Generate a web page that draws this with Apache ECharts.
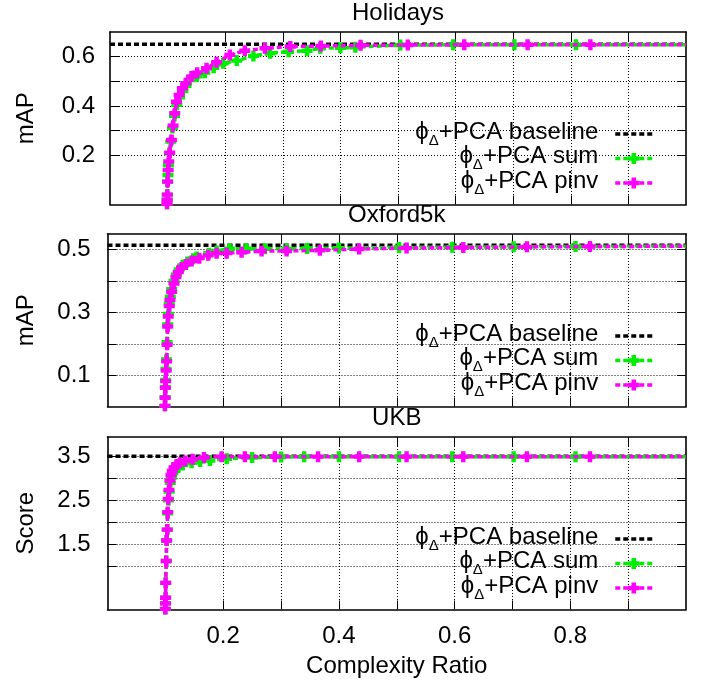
<!DOCTYPE html>
<html>
<head>
<meta charset="utf-8">
<title>Complexity ratio vs. retrieval quality</title>
<script src="https://cdn.jsdelivr.net/npm/echarts@6/dist/echarts.min.js"></script>
<style>
  html, body { margin: 0; padding: 0; background: #ffffff; }
  #chart { width: 712px; height: 683px; }
</style>
</head>
<body>
<div id="chart"></div>
<script>
// ---- data -------------------------------------------------------------
const PANEL_TITLES = ['Holidays', 'Oxford5k', 'UKB'];
const Y_NAMES = ['mAP', 'mAP', 'Score'];
const X_NAME = 'Complexity Ratio';
const SERIES_NAMES = ['\u03D5\u0394+PCA baseline', '\u03D5\u0394+PCA sum', '\u03D5\u0394+PCA pinv'];

const X_RANGE = [0, 1];
const X_GRID_TICKS = [0.2, 0.3, 0.4, 0.5, 0.6, 0.7, 0.8, 0.9];
const X_LABELS = [0.2, 0.4, 0.6, 0.8];

const Y_RANGES = [[0, 0.7], [0, 0.55], [0, 3.95]];
const Y_GRID_TICKS = [
  [0.2, 0.3, 0.4, 0.5, 0.6],
  [0.1, 0.2, 0.3, 0.4, 0.5],
  [1.0, 1.5, 2.0, 2.5, 3.0, 3.5]
];
const Y_LABELS = [[0.2, 0.4, 0.6], [0.1, 0.3, 0.5], [1.5, 2.5, 3.5]];

// full-dimension reference level per dataset
const BASELINE = [0.650, 0.514, 3.51];

// Holidays
const holidaysSumX  = [0.0990, 0.0992, 0.0995, 0.1000, 0.1007, 0.1015, 0.1030, 0.1055, 0.1085, 0.1120, 0.1160, 0.1210, 0.1265, 0.1320, 0.1385, 0.1510, 0.1646, 0.1800, 0.1966, 0.2200, 0.2490, 0.2780, 0.3100, 0.3420, 0.365, 0.400, 0.426, 0.504, 0.596, 0.702, 0.809, 1.0];
const holidaysSumY  = [0.003, 0.019, 0.040, 0.093, 0.120, 0.160, 0.208, 0.255, 0.310, 0.360, 0.405, 0.435, 0.460, 0.482, 0.505, 0.520, 0.535, 0.555, 0.573, 0.584, 0.603, 0.614, 0.620, 0.624, 0.634, 0.636, 0.638, 0.647, 0.648, 0.648, 0.648, 0.648];
const holidaysPinvX = [0.0990, 0.0992, 0.0995, 0.1000, 0.1010, 0.1020, 0.1037, 0.1066, 0.1095, 0.1124, 0.1153, 0.1200, 0.1257, 0.1315, 0.1414, 0.1513, 0.1676, 0.1850, 0.2080, 0.2340, 0.2690, 0.3130, 0.366, 0.435, 0.517, 0.615, 0.725, 0.834, 1.0];
const holidaysPinvY = [0.003, 0.019, 0.040, 0.093, 0.140, 0.175, 0.210, 0.262, 0.320, 0.370, 0.417, 0.445, 0.472, 0.492, 0.519, 0.535, 0.553, 0.577, 0.607, 0.624, 0.634, 0.641, 0.643, 0.646, 0.647, 0.648, 0.648, 0.648, 0.648];

// Oxford5k
const oxfordSumX  = [0.0993, 0.0996, 0.1000, 0.1005, 0.1012, 0.1020, 0.1030, 0.1040, 0.1052, 0.1068, 0.1085, 0.1110, 0.1150, 0.1190, 0.1240, 0.1300, 0.1380, 0.1480, 0.1540, 0.1750, 0.1886, 0.2110, 0.2400, 0.2720, 0.310, 0.345, 0.400, 0.504, 0.596, 0.702, 0.809, 1.0];
const oxfordSumY  = [0.002, 0.030, 0.062, 0.085, 0.120, 0.150, 0.205, 0.262, 0.295, 0.328, 0.350, 0.374, 0.400, 0.420, 0.437, 0.450, 0.461, 0.471, 0.477, 0.489, 0.496, 0.503, 0.503, 0.503, 0.503, 0.504, 0.505, 0.507, 0.508, 0.509, 0.510, 0.511];
const oxfordPinvX = [0.0993, 0.0996, 0.1000, 0.1005, 0.1014, 0.1022, 0.1031, 0.1040, 0.1050, 0.1068, 0.1080, 0.1108, 0.1149, 0.1183, 0.1223, 0.1280, 0.1356, 0.1454, 0.1586, 0.1741, 0.1886, 0.2059, 0.2318, 0.2663, 0.3095, 0.367, 0.435, 0.517, 0.615, 0.725, 0.834, 1.0];
const oxfordPinvY = [0.002, 0.028, 0.060, 0.081, 0.115, 0.144, 0.197, 0.255, 0.287, 0.320, 0.340, 0.366, 0.392, 0.413, 0.429, 0.443, 0.453, 0.464, 0.473, 0.482, 0.489, 0.489, 0.492, 0.496, 0.496, 0.498, 0.502, 0.505, 0.507, 0.509, 0.510, 0.511];

// UKB
const ukbSumX  = [0.1000, 0.1002, 0.1004, 0.1006, 0.1015, 0.1022, 0.1033, 0.1040, 0.1052, 0.1065, 0.1085, 0.1105, 0.1130, 0.1165, 0.1223, 0.1300, 0.1454, 0.1600, 0.1770, 0.2060, 0.250, 0.300, 0.340, 0.400, 0.504, 0.596, 0.702, 0.809, 1.0];
const ukbSumY  = [0.014, 0.14, 0.27, 0.61, 1.11, 1.58, 1.83, 2.20, 2.50, 2.70, 2.90, 3.02, 3.12, 3.19, 3.25, 3.31, 3.36, 3.39, 3.41, 3.45, 3.48, 3.49, 3.50, 3.50, 3.50, 3.50, 3.50, 3.50, 3.50];
const ukbPinvX = [0.1000, 0.1002, 0.1004, 0.1006, 0.1015, 0.1022, 0.1033, 0.1040, 0.1050, 0.1062, 0.1080, 0.1097, 0.1120, 0.1149, 0.1195, 0.1252, 0.1339, 0.1471, 0.1667, 0.1972, 0.2375, 0.2893, 0.364, 0.435, 0.517, 0.615, 0.725, 0.834, 1.0];
const ukbPinvY = [0.014, 0.14, 0.27, 0.61, 1.11, 1.58, 1.83, 2.23, 2.53, 2.74, 2.95, 3.08, 3.17, 3.25, 3.32, 3.36, 3.40, 3.44, 3.48, 3.50, 3.50, 3.50, 3.50, 3.50, 3.50, 3.50, 3.50, 3.50, 3.50];

const SUM_X  = [holidaysSumX, oxfordSumX, ukbSumX];
const SUM_Y  = [holidaysSumY, oxfordSumY, ukbSumY];
const PINV_X = [holidaysPinvX, oxfordPinvX, ukbPinvX];
const PINV_Y = [holidaysPinvY, oxfordPinvY, ukbPinvY];

// ---- layout & style -----------------------------------------------------
const FONT = '"Liberation Sans", Arial, Helvetica, sans-serif';
const FS = 24;
const GRID_LEFT = [110, 107.5, 107.5];
const GRID_TOP = [32, 234, 437];
const GRID_H = 172.5;
const GRID_RIGHT = 26;
const LABEL_MARGIN_Y = [15, 16.8, 16.8];
const COLORS = ['#000000', '#00ee00', '#ff00ff'];
// bold plus-shaped point marker
const PLUS = 'path://M3,0L7,0L7,3L10,3L10,7L7,7L7,10L3,10L3,7L0,7L0,3L3,3Z';
const DASH = [5, 3];
const LINE_W = 3.5;

const fmt = v => Number(v).toFixed(1);
const toPoints = (xs, ys) => xs.map((x, k) =>
  x >= X_RANGE[1] ? { value: [x, ys[k]], symbol: 'none' } : [x, ys[k]]);

const tickStyle = { show: true, inside: true, length: 9, lineStyle: { color: '#000', width: 1 } };
const borderLine = { show: true, onZero: false, lineStyle: { color: '#000', width: 1.6 } };
const gridLine = { show: true, lineStyle: { color: '#000', width: 1, type: [1, 2] } };

// the baseline entry shows its dashed line only, without a point marker
const legendItems = SERIES_NAMES.map((n, k) =>
  k === 0 ? { name: n, itemStyle: { opacity: 0, color: 'rgba(0,0,0,0)', borderWidth: 0 } } : { name: n });

const grids = [], xAxes = [], yAxes = [], series = [], legends = [], graphics = [];

PANEL_TITLES.forEach((title, i) => {
  const isLast = i === PANEL_TITLES.length - 1;
  grids.push({
    left: GRID_LEFT[i], right: GRID_RIGHT, top: GRID_TOP[i], height: GRID_H,
    show: false, containLabel: false, outerBoundsMode: 'none'
  });

  // bottom and top x axes
  xAxes.push({
    type: 'value', gridIndex: i, position: 'bottom', min: X_RANGE[0], max: X_RANGE[1],
    axisLine: borderLine,
    axisTick: Object.assign({ customValues: X_GRID_TICKS }, tickStyle),
    axisLabel: {
      show: isLast, customValues: X_LABELS, formatter: fmt, margin: 15,
      color: '#000', fontFamily: FONT, fontSize: FS
    },
    splitLine: gridLine,
    name: isLast ? X_NAME : '', nameLocation: 'middle', nameGap: 45,
    nameTextStyle: { color: '#000', fontFamily: FONT, fontSize: FS }
  });
  xAxes.push({
    type: 'value', gridIndex: i, position: 'top', min: X_RANGE[0], max: X_RANGE[1],
    axisLine: borderLine,
    axisTick: Object.assign({ customValues: X_GRID_TICKS }, tickStyle),
    axisLabel: { show: false }, splitLine: { show: false }
  });

  // left and right y axes
  yAxes.push({
    type: 'value', gridIndex: i, position: 'left', min: Y_RANGES[i][0], max: Y_RANGES[i][1],
    axisLine: borderLine,
    axisTick: Object.assign({ customValues: Y_GRID_TICKS[i] }, tickStyle),
    axisLabel: {
      customValues: Y_LABELS[i], formatter: fmt, margin: LABEL_MARGIN_Y[i],
      color: '#000', fontFamily: FONT, fontSize: FS
    },
    splitLine: gridLine,
    name: Y_NAMES[i], nameLocation: 'middle', nameGap: GRID_LEFT[i] - 38.5,
    nameTextStyle: { color: '#000', fontFamily: FONT, fontSize: FS }
  });
  yAxes.push({
    type: 'value', gridIndex: i, position: 'right', min: Y_RANGES[i][0], max: Y_RANGES[i][1],
    axisLine: borderLine,
    axisTick: Object.assign({ customValues: Y_GRID_TICKS[i] }, tickStyle),
    axisLabel: { show: false }, splitLine: { show: false }
  });

  const xi = 2 * i, yi = 2 * i;
  series.push({
    type: 'line', name: SERIES_NAMES[0], xAxisIndex: xi, yAxisIndex: yi,
    data: [[X_RANGE[0], BASELINE[i]], [X_RANGE[1], BASELINE[i]]],
    symbol: 'none', silent: true, z: 2,
    lineStyle: { color: COLORS[0], width: LINE_W, type: DASH },
    itemStyle: { color: COLORS[0] }
  });
  series.push({
    type: 'line', name: SERIES_NAMES[1], xAxisIndex: xi, yAxisIndex: yi,
    data: toPoints(SUM_X[i], SUM_Y[i]),
    symbol: PLUS, symbolSize: 11, silent: true, z: 3,
    lineStyle: { color: COLORS[1], width: LINE_W, type: DASH },
    itemStyle: { color: COLORS[1] }
  });
  series.push({
    type: 'line', name: SERIES_NAMES[2], xAxisIndex: xi, yAxisIndex: yi,
    data: toPoints(PINV_X[i], PINV_Y[i]),
    symbol: PLUS, symbolSize: 11, silent: true, z: 4,
    lineStyle: { color: COLORS[2], width: LINE_W, type: DASH },
    itemStyle: { color: COLORS[2] }
  });

  legends.push({
    data: legendItems, orient: 'vertical', align: 'right',
    right: 58, top: GRID_TOP[i] + 88, padding: 0,
    itemWidth: 37, itemHeight: 14, itemGap: -3.5, selectedMode: false,
    lineStyle: { width: LINE_W, type: DASH },
    formatter: n => '{t|' + n.slice(0, 1) + '}{s|' + n.slice(1, 2) + '}{t|' + n.slice(2) + '}',
    textStyle: {
      color: '#000', fontFamily: FONT, fontSize: FS, padding: [0, 12, 0, 0],
      rich: {
        t: { color: '#000', fontFamily: FONT, fontSize: FS, lineHeight: 28, verticalAlign: 'top' },
        s: { color: '#000', fontFamily: FONT, fontSize: 15, lineHeight: 28, verticalAlign: 'bottom' }
      }
    }
  });

  graphics.push({
    type: 'text', x: GRID_LEFT[i] + (712 - GRID_RIGHT - GRID_LEFT[i]) / 2, y: GRID_TOP[i] - 19,
    style: { text: title, fill: '#000', font: FS + 'px ' + FONT, align: 'center', verticalAlign: 'middle' }
  });
});

const chart = echarts.init(document.getElementById('chart'), null, { renderer: 'canvas' });
chart.setOption({
  backgroundColor: '#ffffff',
  animation: false,
  grid: grids,
  xAxis: xAxes,
  yAxis: yAxes,
  legend: legends,
  graphic: graphics,
  tooltip: { show: false },
  series: series
});
</script>
</body>
</html>
